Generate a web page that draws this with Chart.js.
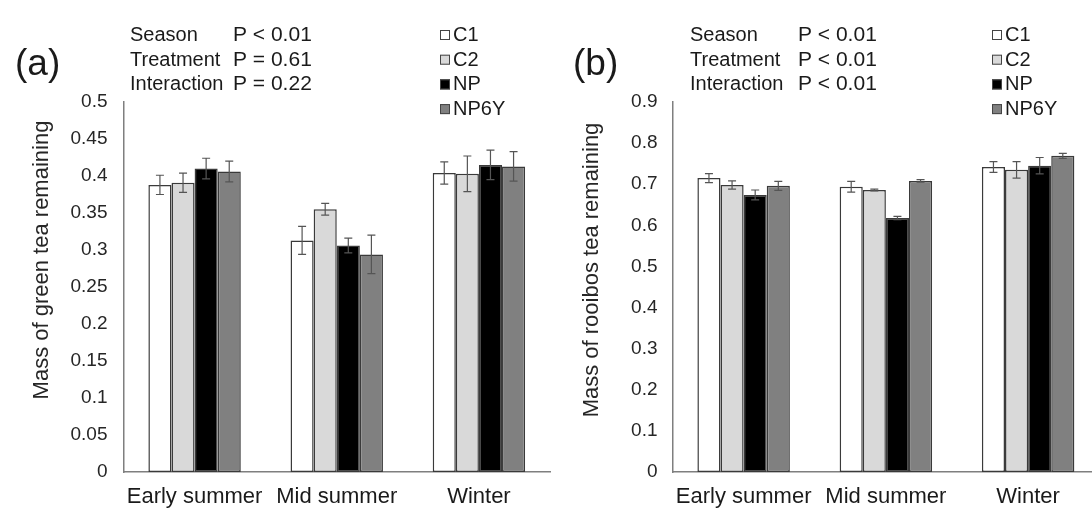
<!DOCTYPE html>
<html>
<head>
<meta charset="utf-8">
<script src="https://cdn.jsdelivr.net/npm/chart.js@4"></script>
<style>
  html, body { margin: 0; padding: 0; background: #fff; overflow: hidden; width: 1092px; height: 516px; }
  #chartA { position: absolute; left: 0; top: 0; }
  #chartB { position: absolute; left: 560px; top: 0; }
</style>
</head>
<body>
<canvas id="chartA" width="560" height="516"></canvas>
<canvas id="chartB" width="580" height="516"></canvas>
<script>
var seasons = ["Early summer", "Mid summer", "Winter"];
var treatments = ["C1", "C2", "NP", "NP6Y"];
var fills = ["#ffffff", "#d9d9d9", "#000000", "#808080"];

// (a) green tea
var greenC1 = [0.388, 0.313, 0.404];
var greenC2 = [0.391, 0.355, 0.403];
var greenNP = [0.410, 0.306, 0.415];
var greenNP6Y = [0.406, 0.294, 0.413];
var greenErrC1 = [0.013, 0.019, 0.015];
var greenErrC2 = [0.013, 0.008, 0.024];
var greenErrNP = [0.014, 0.010, 0.020];
var greenErrNP6Y = [0.014, 0.026, 0.020];

// (b) rooibos tea
var rooibosC1 = [0.715, 0.694, 0.742];
var rooibosC2 = [0.698, 0.686, 0.735];
var rooibosNP = [0.674, 0.618, 0.745];
var rooibosNP6Y = [0.696, 0.708, 0.769];
var rooibosErrC1 = [0.011, 0.013, 0.013];
var rooibosErrC2 = [0.010, 0.002, 0.020];
var rooibosErrNP = [0.012, 0.004, 0.020];
var rooibosErrNP6Y = [0.011, 0.003, 0.006];

var statNames = ["Season", "Treatment", "Interaction"];
var statsA = ["P < 0.01", "P = 0.61", "P = 0.22"];
var statsB = ["P < 0.01", "P < 0.01", "P < 0.01"];

var FONT = '"Liberation Sans", Arial, sans-serif';
Chart.defaults.font.family = FONT;
Chart.defaults.color = "#262626";

var errorBars = {
  id: "errorBars",
  afterDatasetsDraw: function(chart) {
    var ctx = chart.ctx, y = chart.scales.y;
    ctx.save();
    ctx.strokeStyle = "#555";
    ctx.lineWidth = 1.2;
    chart.data.datasets.forEach(function(ds, i) {
      chart.getDatasetMeta(i).data.forEach(function(bar, j) {
        var top = y.getPixelForValue(ds.data[j] + ds.errors[j]);
        var bot = y.getPixelForValue(ds.data[j] - ds.errors[j]);
        ctx.beginPath();
        ctx.moveTo(bar.x, top); ctx.lineTo(bar.x, bot);
        ctx.moveTo(bar.x - 4, top); ctx.lineTo(bar.x + 4, top);
        ctx.moveTo(bar.x - 4, bot); ctx.lineTo(bar.x + 4, bot);
        ctx.stroke();
      });
    });
    ctx.restore();
  }
};

// panel tag, statistics, legend and y title
var notes = {
  id: "notes",
  afterDraw: function(chart, args, o) {
    var ctx = chart.ctx;
    ctx.save();
    ctx.fillStyle = "#1a1a1a";
    ctx.textBaseline = "alphabetic";
    ctx.font = "37px " + FONT;
    ctx.fillText(o.tag, o.tagX, 75);
    statNames.forEach(function(s, i) {
      ctx.font = "20px " + FONT;
      ctx.fillText(s, o.statX, 41 + i * 24.7);
      ctx.font = "21px " + FONT;
      ctx.fillText(o.stats[i], o.pX, 41 + i * 24.7);
    });
    ctx.font = "20px " + FONT;
    chart.data.datasets.forEach(function(ds, i) {
      var base = 41 + i * 24.7;
      ctx.fillStyle = ds.backgroundColor;
      ctx.fillRect(o.legX, base - 11, 10, 10);
      ctx.strokeStyle = "#444";
      ctx.lineWidth = 1;
      ctx.strokeRect(o.legX + 0.5, base - 10.5, 9, 9);
      ctx.fillStyle = "#1a1a1a";
      ctx.fillText(ds.label, o.legX + 13, base);
    });
    ctx.translate(o.titleX, o.titleY);
    ctx.rotate(-Math.PI / 2);
    ctx.textAlign = "center";
    ctx.textBaseline = "middle";
    ctx.fillStyle = "#262626";
    ctx.font = "22px " + FONT;
    ctx.fillText(o.title, 0, 0);
    ctx.restore();
  }
};

function makeDatasets(vals, errs) {
  return treatments.map(function(t, i) {
    return {
      label: t,
      data: vals[i],
      errors: errs[i],
      backgroundColor: fills[i],
      borderColor: "#3a3a3a",
      borderWidth: 1.5,
      borderSkipped: false,
      barPercentage: 1,
      categoryPercentage: 0.65
    };
  });
}

function tickText(v) { return String(Math.round(v * 100) / 100); }

function makePanel(id, datasets, yMax, yStep, pad, yWidth, tickPad, note) {
  return new Chart(document.getElementById(id), {
    type: "bar",
    data: { labels: seasons, datasets: datasets },
    plugins: [errorBars, notes],
    options: {
      responsive: false,
      animation: false,
      devicePixelRatio: 1,
      layout: { padding: pad },
      plugins: { legend: { display: false }, tooltip: { enabled: false }, notes: note },
      scales: {
        x: {
          grid: { display: false, drawTicks: false },
          border: { display: true, color: "#7f7f7f", width: 1.5 },
          ticks: { font: { size: 22 }, padding: 12, color: "#1a1a1a", maxRotation: 0 },
          afterFit: function(s) { s.height = 44; }
        },
        y: {
          min: 0, max: yMax,
          grid: { display: false, drawTicks: false },
          border: { display: true, color: "#7f7f7f", width: 1.5 },
          ticks: { stepSize: yStep, font: { size: 19 }, padding: tickPad, color: "#262626", callback: tickText },
          afterFit: function(s) { s.width = yWidth; }
        }
      }
    }
  });
}

makePanel("chartA",
  makeDatasets([greenC1, greenC2, greenNP, greenNP6Y], [greenErrC1, greenErrC2, greenErrNP, greenErrNP6Y]),
  0.5, 0.05,
  { left: 25, right: 10, top: 102, bottom: 0 }, 98.5, 16,
  { tag: "(a)", tagX: 15, statX: 130, pX: 233, stats: statsA, legX: 440,
    title: "Mass of green tea remaining", titleX: 42, titleY: 260 });

makePanel("chartB",
  makeDatasets([rooibosC1, rooibosC2, rooibosNP, rooibosNP6Y], [rooibosErrC1, rooibosErrC2, rooibosErrNP, rooibosErrNP6Y]),
  0.9, 0.1,
  { left: 13, right: 40.75, top: 102, bottom: 0 }, 99.5, 15,
  { tag: "(b)", tagX: 13, statX: 130, pX: 238, stats: statsB, legX: 432,
    title: "Mass of rooibos tea remaining", titleX: 32, titleY: 270 });
</script>
</body>
</html>
